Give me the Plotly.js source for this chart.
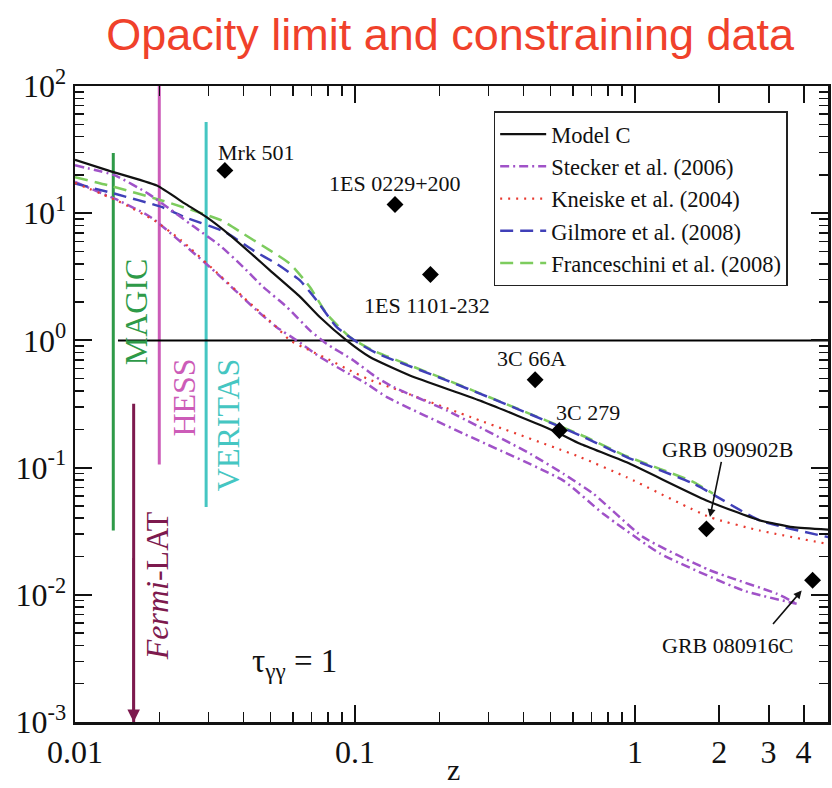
<!DOCTYPE html>
<html><head><meta charset="utf-8">
<script src="https://cdn.plot.ly/plotly-3.0.1.min.js"></script>
<style>html,body{margin:0;padding:0;background:#fff;} #chart{width:832px;height:788px;}</style>
</head><body><div id="chart"></div>
<script>
// ---- data ----
const modelC_z = [0.01, 0.0131, 0.0196, 0.0247, 0.0295, 0.0358, 0.044, 0.0497, 0.0637, 0.075, 0.0933, 0.113, 0.157, 0.279, 0.51, 0.637, 0.934, 1.80, 2.79, 3.67, 4.9];
const modelC_y = [26.3, 21.7, 16.5, 11.9, 9.3, 6.7, 4.52, 3.55, 2.2, 1.52, 1.0, 0.74, 0.53, 0.337, 0.196, 0.154, 0.110, 0.0552, 0.0385, 0.034, 0.0325];

const steckerA_z = [0.01, 0.0139, 0.0183, 0.0268, 0.0329, 0.0399, 0.047, 0.0571, 0.069, 0.0792, 0.0984, 0.119, 0.137, 0.2126, 0.422, 0.555, 0.71, 1.07, 1.85, 3.21, 3.78];
const steckerA_y = [23.8, 19.8, 14.2, 7.74, 5.58, 3.77, 2.63, 1.83, 1.2, 0.94, 0.70, 0.514, 0.43, 0.282, 0.1286, 0.0895, 0.0624, 0.0284, 0.0156, 0.0102, 0.0085];

const steckerB_z = [0.01, 0.0143, 0.0178, 0.0193, 0.0303, 0.0446, 0.0525, 0.062, 0.075, 0.0906, 0.110, 0.130, 0.244, 0.555, 0.77, 1.23, 2.44, 3.78];
const steckerB_y = [17.6, 12.6, 9.9, 8.8, 3.78, 1.72, 1.27, 1.0, 0.74, 0.58, 0.457, 0.358, 0.185, 0.079, 0.0434, 0.0211, 0.0108, 0.0085];

const kneiske_z = [0.01, 0.0143, 0.0193, 0.024, 0.0334, 0.0399, 0.0525, 0.0586, 0.069, 0.0814, 0.096, 0.113, 0.137, 0.279, 0.637, 0.934, 1.85, 2.79, 4.84];
const kneiske_y = [17.3, 12.4, 8.7, 6.1, 3.15, 2.19, 1.27, 1.0, 0.834, 0.70, 0.58, 0.49, 0.42, 0.235, 0.121, 0.084, 0.0408, 0.032, 0.0252];

const gilmore_z = [0.01, 0.0139, 0.0204, 0.0247, 0.0344, 0.0433, 0.0525, 0.0636, 0.073, 0.0861, 0.104, 0.12, 0.2126, 0.367, 0.637, 0.934, 1.62, 2.79, 4.9];
const gilmore_y = [17.1, 14.2, 11.2, 9.3, 7.1, 5.1, 4.0, 2.96, 2.06, 1.27, 0.94, 0.79, 0.485, 0.299, 0.179, 0.121, 0.0747, 0.0385, 0.0284];

const franc_z = [0.01, 0.0131, 0.0204, 0.0334, 0.0399, 0.0497, 0.0586, 0.069, 0.0792, 0.096, 0.116, 0.2126, 0.367, 0.637, 0.934, 1.62, 1.90];
const franc_y = [19.2, 16.6, 12.6, 8.77, 6.9, 5.1, 4.0, 2.63, 1.62, 1.06, 0.834, 0.49, 0.30, 0.182, 0.123, 0.077, 0.0624];

const sources = ['Mrk 501', '1ES 0229+200', '1ES 1101-232', '3C 66A', '3C 279', 'GRB 090902B', 'GRB 080916C'];
const source_z = [0.0343, 0.139, 0.186, 0.44, 0.537, 1.80, 4.31];
const source_tau1 = [21.7, 11.7, 3.3, 0.49, 0.196, 0.033, 0.013];

const instruments = ['MAGIC', 'HESS', 'VERITAS', 'Fermi-LAT'];
const instr_z = [0.0137, 0.020, 0.0294, 0.0162];
const instr_ymin = [0.032, 0.106, 0.049, 0.001];
const instr_ymax = [29.7, 100, 52, 0.318];

const tauLine_z = [0.01424, 5];
const tauLine_y = [1, 1];

const xTickVals = [0.01, 0.1, 1, 2, 3, 4];
const xTickText = ['0.01', '0.1', '1', '2', '3', '4'];
const yTickVals = [0.001, 0.01, 0.1, 1, 10, 100];
const yTickText = ['10<sup>-3</sup>', '10<sup>-2</sup>', '10<sup>-1</sup>', '10<sup>0</sup>', '10<sup>1</sup>', '10<sup>2</sup>'];

// ---- styles ----
const SERIF = "'Liberation Serif', 'Times New Roman', 'DejaVu Serif', serif";
const SANS = "'Liberation Sans', Arial, sans-serif";
const instrColors = ['#2e9a48', '#cc5cb8', '#45c6c2', '#7d1a4e'];
const PURPLE = '#a052c8';

const minorX = [];
[0.01, 0.1].forEach(d => { for (let k = 2; k <= 9; k++) minorX.push(k * d); });
const minorY = [];
[0.001, 0.01, 0.1, 1, 10].forEach(d => { for (let k = 2; k <= 9; k++) minorY.push(k * d); });

const SPL = {shape: 'spline', smoothing: 0.5};
const traces = [];
instruments.forEach((n, i) => {
  traces.push({x: [instr_z[i], instr_z[i]], y: [instr_ymin[i], instr_ymax[i]], mode: 'lines',
    line: {color: instrColors[i], width: 3}, showlegend: false, hoverinfo: 'skip'});
});
traces.push({x: tauLine_z, y: tauLine_y, mode: 'lines', line: {color: '#000', width: 2}, showlegend: false, hoverinfo: 'skip'});

traces.push({x: steckerB_z, y: steckerB_y, mode: 'lines', line: Object.assign({color: PURPLE, width: 2.5, dash: '9px,4px,2px,4px'}, SPL), showlegend: false});
traces.push({x: franc_z, y: franc_y, mode: 'lines', name: 'Franceschini et al. (2008)', legendrank: 5, line: Object.assign({color: '#7dcc5e', width: 2.5, dash: '13px,7px'}, SPL)});
traces.push({x: gilmore_z, y: gilmore_y, mode: 'lines', name: 'Gilmore et al. (2008)', legendrank: 4, line: Object.assign({color: '#4040b8', width: 2.5, dash: '13px,7px'}, SPL)});
traces.push({x: kneiske_z, y: kneiske_y, mode: 'lines', name: 'Kneiske et al. (2004)', legendrank: 3, line: Object.assign({color: '#e83a30', width: 2.2, dash: '2px,6px'}, SPL)});
traces.push({x: steckerA_z, y: steckerA_y, mode: 'lines', name: 'Stecker et al. (2006)', legendrank: 2, line: Object.assign({color: PURPLE, width: 2.5, dash: '9px,4px,2px,4px'}, SPL)});
traces.push({x: modelC_z, y: modelC_y, mode: 'lines', name: 'Model C', legendrank: 1, line: Object.assign({color: '#111', width: 2.2}, SPL)});
traces.push({x: source_z, y: source_tau1, mode: 'markers', text: sources, showlegend: false,
  marker: {symbol: 'diamond', size: 13, color: '#000'}});

const L10 = Math.log10;
const ann = [];
const lab = (text, x, y, opts) => ann.push(Object.assign({text, x, y, xref: 'x', yref: 'y', showarrow: false,
  xanchor: 'left', yanchor: 'middle', font: {family: SERIF, size: 22, color: '#111'}}, opts || {}));
lab('Mrk 501', -1.497, 1.478);
lab('1ES 0229+200', -1.100, 1.234);
lab('1ES 1101-232', -0.975, 0.275);
lab('3C 66A', -0.500, -0.142);
lab('3C 279', -0.289, -0.566);
lab('GRB 090902B', 0.089, -0.857);
lab('GRB 080916C', 0.089, -2.397);
lab('τ<sub>γγ</sub> = 1', -1.375, -2.539, {font: {family: SERIF, size: 33, color: '#111'}});
const rot = (text, x, y, color) => ann.push({text, x, y, xref: 'x', yref: 'y', showarrow: false, textangle: -90,
  xanchor: 'center', yanchor: 'middle', font: {family: SERIF, size: 32, color}});
rot('MAGIC', -1.779, 0.228, instrColors[0]);
rot('HESS', -1.614, -0.449, instrColors[1]);
rot('VERITAS', -1.454, -0.66, instrColors[2]);
rot('<i>Fermi</i>-LAT', -1.704, -1.926, instrColors[3]);
const arrow = (hx, hy, tx, ty, color, w) => ann.push({text: '', x: hx, y: hy, ax: tx, ay: ty, xref: 'x', yref: 'y', axref: 'x', ayref: 'y',
  showarrow: true, arrowhead: 2, arrowsize: 1, arrowwidth: w, arrowcolor: color, standoff: 0, startstandoff: 0});
arrow(L10(instr_z[3]), L10(instr_ymin[3]), L10(instr_z[3]), L10(0.02), instrColors[3], 2.5);
arrow(L10(1.853), L10(0.0408), L10(2.04), L10(0.114), '#111', 1.6);
arrow(L10(3.94), L10(0.0108), L10(3.08), L10(0.00574), '#111', 1.6);
ann.push({text: 'z', x: 0.502, y: -0.075, xref: 'paper', yref: 'paper', showarrow: false, xanchor: 'center', yanchor: 'middle',
  font: {family: SERIF, size: 30, color: '#111'}});

const axisCommon = {type: 'log', showline: true, linecolor: '#111', linewidth: 2.5, mirror: 'allticks', ticks: 'inside',
  ticklen: 17, tickwidth: 2, tickcolor: '#111', showgrid: false, zeroline: false, tickmode: 'array',
  tickfont: {family: SERIF, size: 32, color: '#111'}};

const layout = {
  width: 832, height: 788,
  margin: {l: 75, r: 4, t: 86, b: 66},
  paper_bgcolor: '#fff', plot_bgcolor: '#fff',
  font: {family: SERIF},
  title: {text: 'Opacity limit and constraining data', x: 0.541, xanchor: 'center', y: 0.956, yanchor: 'middle',
    xref: 'container', yref: 'container', font: {family: SANS, size: 45, color: '#f0412b'}},
  xaxis: Object.assign({}, axisCommon, {range: [-2, 0.6895], tickvals: xTickVals, ticktext: xTickText,
    minor: {tickmode: 'array', tickvals: minorX, ticks: 'inside', ticklen: 10, tickwidth: 1.5, tickcolor: '#111', showgrid: false}}),
  yaxis: Object.assign({}, axisCommon, {range: [-3, 2], tickvals: yTickVals, ticktext: yTickText,
    minor: {tickmode: 'array', tickvals: minorY, ticks: 'inside', ticklen: 9, tickwidth: 1.5, tickcolor: '#111', showgrid: false}}),
  showlegend: true,
  legend: {x: 0.556, y: 0.96, xanchor: 'left', yanchor: 'top', bgcolor: '#fff', bordercolor: '#222', borderwidth: 1.5,
    font: {family: SERIF, size: 22.5, color: '#111'}, itemwidth: 46, tracegroupgap: 0, traceorder: 'normal'},
  annotations: ann
};

Plotly.newPlot('chart', traces, layout, {staticPlot: true});
</script>
</body></html>
